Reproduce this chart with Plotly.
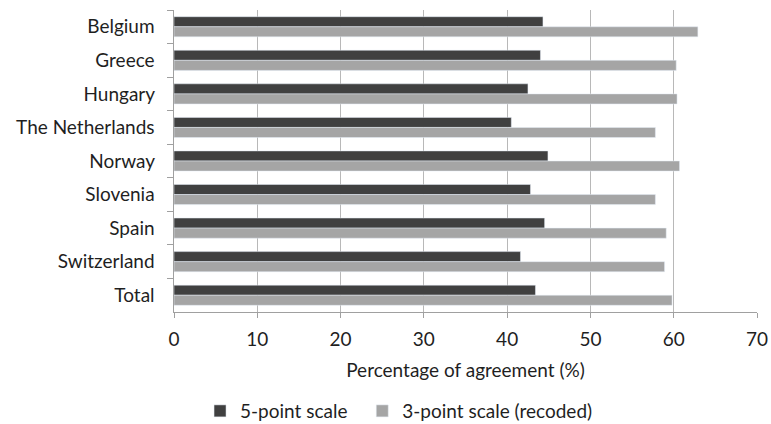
import plotly.graph_objects as go

countries = ["Belgium", "Greece", "Hungary", "The Netherlands", "Norway",
             "Slovenia", "Spain", "Switzerland", "Total"]
five_point = [44.3, 44.0, 42.5, 40.5, 44.9, 42.8, 44.5, 41.6, 43.4]
three_point = [62.9, 60.3, 60.4, 57.8, 60.7, 57.8, 59.1, 58.9, 59.8]
x_ticks = [0, 10, 20, 30, 40, 50, 60, 70]

font = "Lato, Carlito, Calibri, sans-serif"

fig = go.Figure()
fig.add_trace(go.Bar(y=countries, x=five_point, orientation="h",
                     name="5-point scale\u00a0\u00a0", marker_color="#404040"))
fig.add_trace(go.Bar(y=countries, x=three_point, orientation="h",
                     name="3-point scale (recoded)", marker_color="#a5a5a5"))

fig.update_layout(
    width=771, height=424,
    margin=dict(l=174, r=14, t=10, b=112, autoexpand=False),
    barmode="group", bargap=0.40, bargroupgap=0,
    plot_bgcolor="white", paper_bgcolor="white",
    font=dict(family=font, size=19, color="#1f1f1f"),
    legend=dict(orientation="h", x=0.386, xanchor="center", y=-0.265, yanchor="top",
                font=dict(size=19), itemwidth=30, traceorder="normal",
                tracegroupgap=0),
    showlegend=True,
)
fig.update_xaxes(range=[0, 70], tickvals=x_ticks, showgrid=True, gridcolor="#b8b8b8",
                 gridwidth=1, showline=True, linecolor="#a0a0a0", ticks="outside",
                 ticklen=5, tickcolor="#a0a0a0", zeroline=False, automargin=False,
                 ticklabelstandoff=5, tickfont=dict(size=19),
                 title=dict(text="Percentage of agreement (%)", standoff=14,
                            font=dict(size=19)))
fig.update_yaxes(autorange="reversed", showline=True, linecolor="#a0a0a0",
                 ticks="outside", tickson="boundaries", ticklen=6, tickcolor="#a0a0a0",
                 showgrid=False, ticksuffix="   ", automargin=False)

fig.write_html("out.html", config={"displayModeBar": False},
               post_script="document.body.style.margin='0';")
